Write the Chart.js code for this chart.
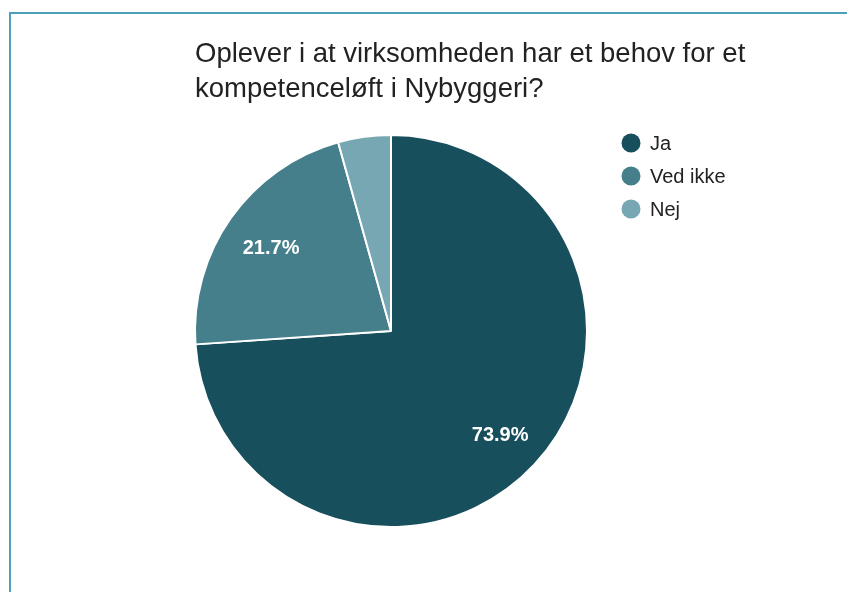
<!DOCTYPE html>
<html>
<head>
<meta charset="utf-8">
<script src="https://cdn.jsdelivr.net/npm/chart.js@4.4.0/dist/chart.umd.min.js"></script>
<style>
    html, body { margin: 0; padding: 0; background: #fff; }
    #wrap { position: relative; width: 847px; height: 592px; overflow: hidden; }
    #frame {
        position: absolute; left: 9px; top: 12px; width: 900px; height: 700px;
        border-left: 2px solid #4d9fba; border-top: 2px solid #4d9fba;
    }
    #pie-chart { position: absolute; left: 0; top: 0; }
</style>
</head>
<body>
<div id="wrap">
    <div id="frame"></div>
    <canvas id="pie-chart" width="847" height="592"></canvas>
</div>
<script>
var title_lines = ['Oplever i at virksomheden har et behov for et', 'kompetenceløft i Nybyggeri?'];
var label_values = ['Ja', 'Ved ikke', 'Nej'];
var answer_values = [17, 5, 1];
var slice_colors = ['#184f5d', '#467f8c', '#77a7b3'];

var FONT = '"Liberation Sans", Arial, Helvetica, sans-serif';

function $each(arr, fn) {
    for (var i = 0; i < arr.length; i++) fn(i, arr[i]);
}

// title drawn by hand so it is not squeezed into the chart area width
var titlePlugin = {
    id: 'titleText',
    afterDraw: function (chart) {
        var ctx = chart.ctx;
        ctx.save();
        ctx.fillStyle = '#222222';
        ctx.font = '27.5px ' + FONT;
        ctx.textBaseline = 'alphabetic';
        ctx.textAlign = 'left';
        $each(title_lines, function (i, line) {
            ctx.fillText(line, 195, 62 + i * 35);
        });
        ctx.restore();
    }
};

var legendPlugin = {
    id: 'sideLegend',
    afterDraw: function (chart) {
        var ctx = chart.ctx;
        var ds = chart.data.datasets[0];
        ctx.save();
        ctx.font = '20px ' + FONT;
        ctx.textBaseline = 'middle';
        $each(chart.data.labels, function (i, label) {
            var y = 143 + i * 33;
            ctx.beginPath();
            ctx.arc(631, y, 9.5, 0, Math.PI * 2);
            ctx.fillStyle = ds.backgroundColor[i];
            ctx.fill();
            ctx.fillStyle = '#222222';
            ctx.fillText(label, 650, y + 1);
        });
        ctx.restore();
    }
};

var percentPlugin = {
    id: 'percentLabels',
    afterDatasetsDraw: function (chart) {
        var ctx = chart.ctx;
        var meta = chart.getDatasetMeta(0);
        var data = chart.data.datasets[0].data;
        var total = data.reduce(function (a, b) { return a + b; }, 0);
        ctx.save();
        ctx.font = 'bold 20px ' + FONT;
        ctx.fillStyle = '#ffffff';
        ctx.textAlign = 'center';
        ctx.textBaseline = 'middle';
        $each(meta.data, function (i, arc) {
            var pct = data[i] / total * 100;
            if (pct < 5) return;
            var p = arc.getProps(['x', 'y', 'startAngle', 'endAngle', 'outerRadius'], true);
            var mid = (p.startAngle + p.endAngle) / 2;
            var d = p.outerRadius * 0.755;
            ctx.fillText(pct.toFixed(1) + '%', p.x + Math.cos(mid) * d + 1, p.y + Math.sin(mid) * d + 3);
        });
        ctx.restore();
    }
};

var PieChart = new Chart(document.getElementById('pie-chart'), {
    type: 'pie',
    data: {
        labels: label_values,
        datasets: [{
            data: answer_values,
            backgroundColor: slice_colors,
            borderColor: '#ffffff',
            borderWidth: 2
        }]
    },
    plugins: [titlePlugin, legendPlugin, percentPlugin],
    options: {
        responsive: false,
        animation: false,
        layout: {
            padding: { left: 194, right: 259, top: 134, bottom: 64 }
        },
        plugins: {
            legend: { display: false },
            title: { display: false },
            tooltip: { enabled: false }
        }
    }
});
</script>
</body>
</html>
